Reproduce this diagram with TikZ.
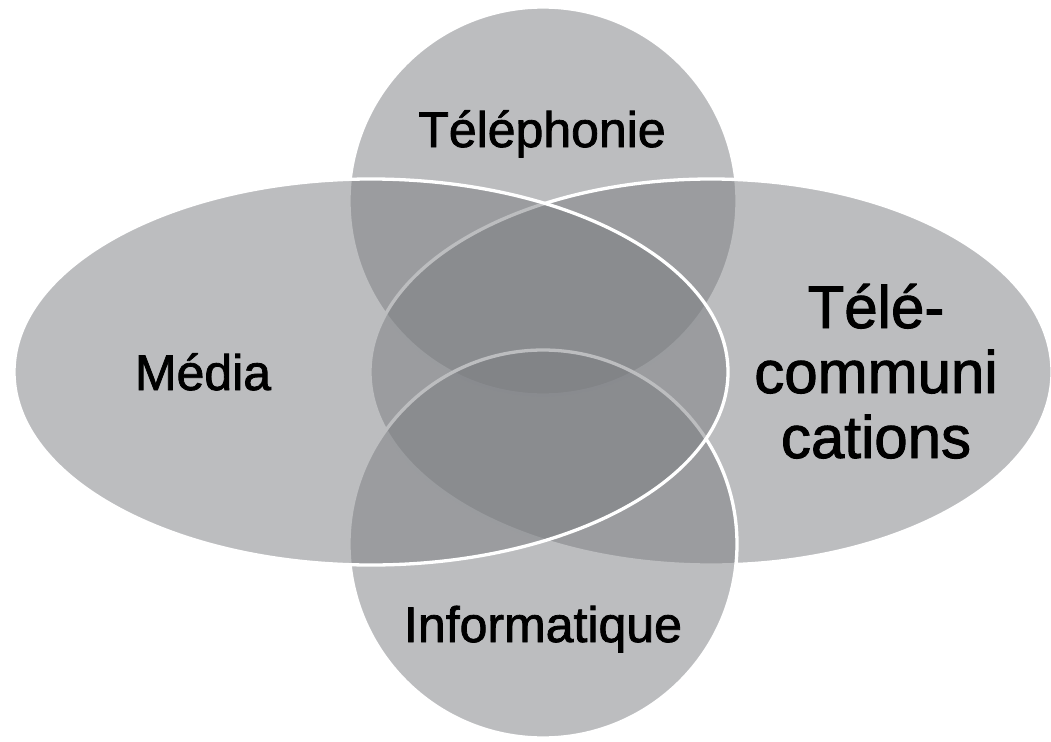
\documentclass[tikz,border=0pt]{standalone}
\usepackage{fontspec}
\setmainfont{Liberation Sans}
\newfontfamily\lblfont[RawFeature={embolden=1.6}]{Liberation Sans}
\definecolor{vennfill}{RGB}{122,124,128}
\begin{document}
\begin{tikzpicture}[x=1pt,y=-1pt,
  venn/.style={fill=vennfill, fill opacity=0.5, draw=white, draw opacity=1, line width=3.3pt},
  lbl/.style={text=black, font=\lblfont\fontsize{50}{58}\selectfont, anchor=base, inner sep=0pt},
  biglbl/.style={text=black, font=\lblfont\fontsize{60}{65}\selectfont, anchor=base, inner sep=0pt}]
\useasboundingbox (0,0) rectangle (1051,741);
\clip (0,0) rectangle (1051,741);
% shapes, in drawing order
\path[venn] (543,201) circle [radius=194pt];
\path[venn] (711,372) ellipse [x radius=341pt, y radius=193pt];
\path[venn] (543,544) circle [radius=194pt];
\path[venn] (371,372) ellipse [x radius=357pt, y radius=193pt];
% labels
\node[lbl] (tel) at (542,147) {Téléphonie};
\node[lbl] (med) at (203,390) {Média};
\node[lbl] (inf) at (543,642) {Informatique};
\node[biglbl] (tc) at (876,328) {\begin{tabular}[t]{@{}c@{}}Télé-\\communi\\cations\end{tabular}};
\end{tikzpicture}
\end{document}
